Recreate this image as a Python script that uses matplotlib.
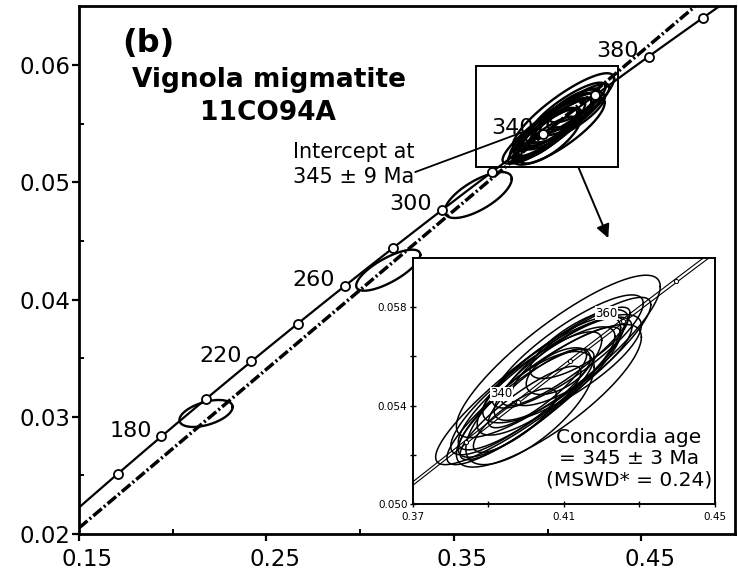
import numpy as np
import matplotlib
matplotlib.use("Agg")
import matplotlib.pyplot as plt
from matplotlib.patches import Rectangle
from matplotlib.ticker import MultipleLocator, FixedLocator, FormatStrFormatter
from matplotlib.transforms import ScaledTranslation

# decay constants (1/yr)
L235 = 9.8485e-10
L238 = 1.55125e-10
L235_ERR = 0.0135e-10          # 2 sigma, for the concordia band in the inset

# concordia ticks
marker_ages = list(range(160, 401, 20))
label_ages = [180, 220, 260, 300, 340, 380]
inset_marker_ages = [330, 340, 350, 360, 370]
inset_label_ages = [340, 360]

# discordia: lower / upper intercept (Ma)
intercept_ages = [10, 345]

# spot analyses: 207Pb/235U, 2s, 206Pb/238U, 2s, rho
spot_x = [0.2178, 0.3150, 0.3630,
          0.4085, 0.4060, 0.4110, 0.4040, 0.4000, 0.4075, 0.4030, 0.4140,
          0.3985, 0.4085, 0.4020, 0.4105, 0.4045, 0.3970, 0.4095, 0.4010,
          0.4060, 0.4120, 0.4000]
spot_x_err = [0.0142, 0.0171, 0.0179,
              0.0270, 0.0245, 0.0200, 0.0220, 0.0180, 0.0160, 0.0130, 0.0130,
              0.0160, 0.0085, 0.0230, 0.0170, 0.0285, 0.0110, 0.0210, 0.0170,
              0.0190, 0.0160, 0.0200]
spot_y = [0.03028, 0.04250, 0.04891,
          0.05600, 0.05440, 0.05620, 0.05490, 0.05410, 0.05530, 0.05470, 0.05650,
          0.05370, 0.05540, 0.05440, 0.05600, 0.05500, 0.05340, 0.05550, 0.05390,
          0.05520, 0.05580, 0.05450]
spot_y_err = [0.00115, 0.00175, 0.00196,
              0.00330, 0.00290, 0.00230, 0.00270, 0.00220, 0.00190, 0.00160, 0.00140,
              0.00190, 0.00095, 0.00280, 0.00200, 0.00340, 0.00130, 0.00220, 0.00230,
              0.00240, 0.00180, 0.00250]
spot_rho = [0.48, 0.75, 0.70,
            0.86, 0.82, 0.85, 0.88, 0.85, 0.80, 0.85, 0.75,
            0.88, 0.55, 0.90, 0.88, 0.91, 0.80, 0.80, 0.72,
            0.82, 0.78, 0.86]


def conc(t_ma, l235=L235):
    t = np.asarray(t_ma, dtype=float) * 1e6
    return np.exp(l235 * t) - 1, np.exp(L238 * t) - 1


def ellipse(x, sx, y, sy, rho, n=160):
    th = np.linspace(0, 2 * np.pi, n)
    ex = x + sx * np.cos(th)
    ey = y + sy * (rho * np.cos(th) + np.sqrt(1 - rho ** 2) * np.sin(th))
    return ex, ey


fig = plt.figure(figsize=(7.38, 5.75), dpi=100)
ax = fig.add_axes([0.1070, 0.0713, 0.8889, 0.9176])

# ellipses
for x, sx, y, sy, r in zip(spot_x, spot_x_err, spot_y, spot_y_err, spot_rho):
    ex, ey = ellipse(x, sx, y, sy, r)
    ax.plot(ex, ey, "-", color="k", lw=1.7, zorder=2)

# concordia
tt = np.linspace(100, 440, 400)
cx, cy = conc(tt)
ax.plot(cx, cy, "-", color="k", lw=1.6, zorder=3)
mx, my = conc(marker_ages)
ax.plot(mx, my, "o", ms=6.5, mfc="white", mec="k", mew=1.3, zorder=5)
for a in label_ages:
    lx, ly = conc(a)
    ax.annotate(str(a), xy=(lx, ly), xytext=(-7, 4), textcoords="offset points",
                ha="right", va="center", fontsize=16, zorder=6)

# discordia
p0 = conc(intercept_ages[0])
p1 = conc(intercept_ages[1])
ax.axline((float(p0[0]), float(p0[1])), (float(p1[0]), float(p1[1])),
          color="k", lw=2.5, ls=(0, (3.2, 0.8, 0.6, 0.8)), zorder=4)

ax.set_xlim(0.15, 0.50)
ax.set_ylim(0.02, 0.065)
ax.xaxis.set_major_locator(FixedLocator([0.15, 0.25, 0.35, 0.45]))
ax.xaxis.set_minor_locator(FixedLocator([0.20, 0.30, 0.40]))
ax.yaxis.set_major_locator(MultipleLocator(0.01))
ax.yaxis.set_minor_locator(FixedLocator([0.025, 0.035, 0.045, 0.055]))
ax.xaxis.set_major_formatter(FormatStrFormatter("%.2f"))
ax.yaxis.set_major_formatter(FormatStrFormatter("%.2f"))
ax.tick_params(which="major", direction="out", length=5, width=1.6, labelsize=16.5)
ax.tick_params(axis="x", which="major", pad=5)
ax.tick_params(axis="y", which="major", pad=1)
ax.tick_params(which="minor", direction="in", length=3.5, width=1.4)
for s in ax.spines.values():
    s.set_linewidth(2.0)
for lab in ax.get_xticklabels():
    lab.set_transform(lab.get_transform() + ScaledTranslation(6 / 72, 0, fig.dpi_scale_trans))

# texts
ax.text(0.0655, 0.9136, "(b)", transform=ax.transAxes, fontsize=23,
        fontweight="bold", ha="left", va="baseline")
ax.text(0.2896, 0.847, "Vignola migmatite", transform=ax.transAxes, fontsize=19,
        fontweight="bold", ha="center", va="baseline")
ax.text(0.2876, 0.785, "11CO94A", transform=ax.transAxes, fontsize=19,
        fontweight="bold", ha="center", va="baseline")
ax.text(0.326, 0.7127, "Intercept at", transform=ax.transAxes, fontsize=15,
        ha="left", va="baseline")
ax.text(0.326, 0.6653, "345 ± 9 Ma", transform=ax.transAxes, fontsize=15,
        ha="left", va="baseline")

# leader line, zoom box and arrow
ax.annotate("", xy=(0.3870, 0.05429), xytext=(0.3294, 0.05087),
            arrowprops=dict(arrowstyle="-", color="k", lw=1.3, shrinkA=0, shrinkB=0),
            zorder=6)
ax.add_patch(Rectangle((0.362, 0.0513), 0.0758, 0.00861, fill=False,
                       ec="k", lw=1.4, zorder=6))
ax.annotate("", xy=(0.4324, 0.04524), xytext=(0.4164, 0.0513),
            arrowprops=dict(arrowstyle="-|>", color="k", lw=1.4,
                            mutation_scale=20, shrinkA=0, shrinkB=0),
            zorder=6)

# ---- inset
ai = fig.add_axes([0.5596, 0.1235, 0.4092, 0.4278])
ai.set_facecolor("white")
ai.set_xlim(0.37, 0.45)
ai.set_ylim(0.050, 0.060)
for x, sx, y, sy, r in zip(spot_x, spot_x_err, spot_y, spot_y_err, spot_rho):
    if not (0.37 < x < 0.45):
        continue
    ex, ey = ellipse(x, sx, y, sy, r)
    ai.plot(ex, ey, "-", color="k", lw=1.1, zorder=2)

ti = np.linspace(300, 400, 300)
rel = L235_ERR / L235
for f in (1 - rel, 1 + rel):
    bx, by = conc(ti, L235 * f)
    ai.plot(bx, by, "-", color="k", lw=0.8, zorder=3)
imx, imy = conc(inset_marker_ages)
ai.plot(imx, imy, "o", ms=3, mfc="white", mec="k", mew=0.7, zorder=4)
for a in inset_label_ages:
    lx, ly = conc(a)
    ai.annotate(str(a), xy=(lx, ly), xytext=(-3.5, 1), textcoords="offset points",
                ha="right", va="bottom", fontsize=8.5, zorder=6,
                bbox=dict(boxstyle="square,pad=0.05", fc="white", ec="none"))

ai.text(0.715, 0.185, "Concordia age\n= 345 ± 3 Ma\n(MSWD* = 0.24)",
        transform=ai.transAxes, fontsize=14.5, ha="center", va="center",
        multialignment="center", linespacing=1.15, zorder=7)

ai.xaxis.set_major_locator(FixedLocator([0.37, 0.41, 0.45]))
ai.xaxis.set_minor_locator(FixedLocator([0.39, 0.43]))
ai.yaxis.set_major_locator(FixedLocator([0.050, 0.054, 0.058]))
ai.yaxis.set_minor_locator(FixedLocator([0.052, 0.056]))
ai.xaxis.set_major_formatter(FormatStrFormatter("%.2f"))
ai.yaxis.set_major_formatter(FormatStrFormatter("%.3f"))
ai.tick_params(which="both", direction="inout", length=4, width=1.0, labelsize=7.5)
ai.tick_params(axis="x", which="major", pad=4)
ai.tick_params(axis="y", which="major", pad=2)
for s in ai.spines.values():
    s.set_linewidth(1.4)

fig.savefig("out.png", dpi=100)
